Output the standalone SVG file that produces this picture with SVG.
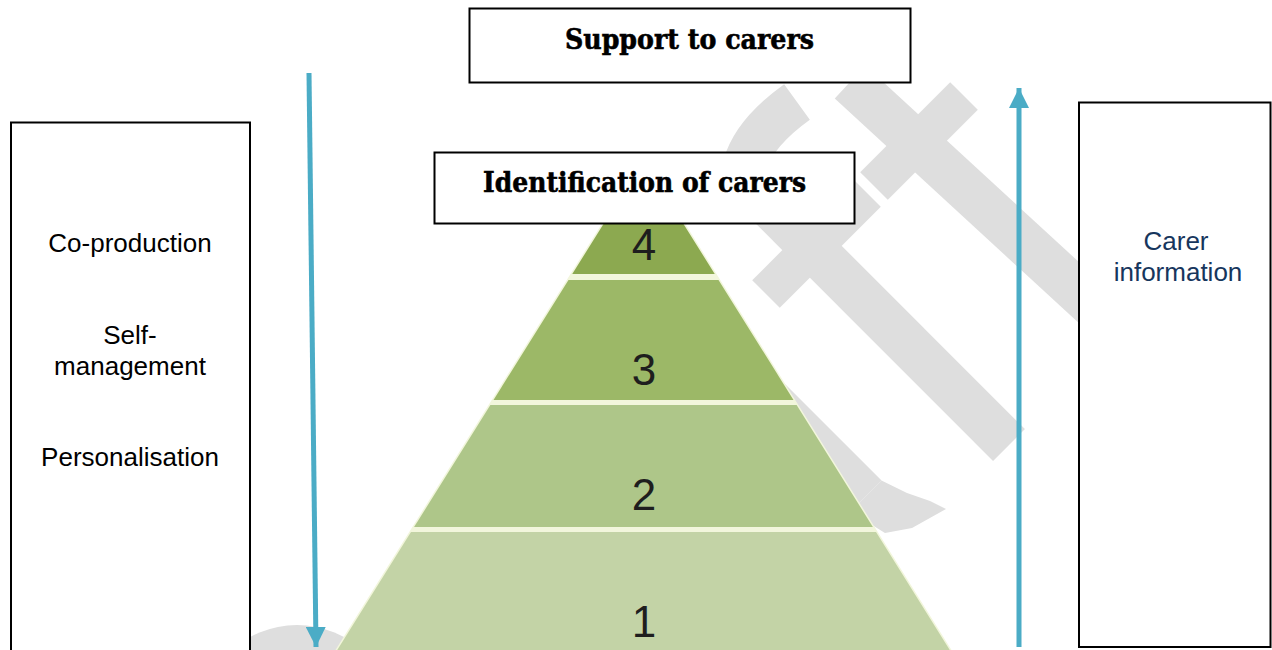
<svg xmlns="http://www.w3.org/2000/svg" width="1272" height="650" viewBox="0 0 1272 650">
<defs>
<style>
.wm{fill:none;stroke:#dedede;stroke-linecap:butt}
.wmf{fill:#dedede}
.box{fill:#ffffff;stroke:#000000;stroke-width:2}
.title{font-family:"DejaVu Serif","Liberation Serif",serif;font-weight:bold;font-size:28px;fill:#000000;stroke:#000000;stroke-width:0.6;text-anchor:middle}
.lbl{font-family:"Liberation Sans",Arial,sans-serif;font-size:26px;fill:#000000;text-anchor:middle}
.info{font-family:"Liberation Sans",Arial,sans-serif;font-size:26px;fill:#17365d;text-anchor:middle}
.num{font-family:"Liberation Sans",Arial,sans-serif;font-size:44px;fill:#1e1e1e;text-anchor:middle}
.arrow{stroke:#4bacc6;stroke-width:5;fill:none}
</style>
<marker id="head" viewBox="0 0 20 20" refX="20" refY="10" markerWidth="20" markerHeight="20" markerUnits="userSpaceOnUse" orient="auto">
<path d="M0,0 L20,10 L0,20 Z" fill="#4bacc6"/>
</marker>
</defs>
<rect x="0" y="0" width="1272" height="650" fill="#ffffff"/>

<g id="watermark">
<circle class="wmf" cx="297" cy="723" r="98"/>
<path class="wm" stroke-width="44" d="M797,102 C772,120 752,140 745,165 C735,200 650,195 645,235 C642,260 640,268 652,282 L866,496"/>
<polygon class="wmf" points="881.5,480.5 907,493 930,501 946,509 912,528 885,533 850.5,511.5"/>
<line class="wm" stroke-width="45" x1="850" y1="82" x2="1100" y2="312"/>
<line class="wm" stroke-width="39" x1="964" y1="96" x2="874" y2="186"/>
<line class="wm" stroke-width="39" x1="867" y1="193" x2="766" y2="294"/>
<line class="wm" stroke-width="45" x1="760" y1="196" x2="1009" y2="445"/>
</g>

<g id="pyramid">
<polygon points="643.5,160 331,660 956,660" fill="#f2f6dc" stroke="#f2f6dc" stroke-width="3"/>
<g id="tier-4">
<polygon points="643.5,160 572.25,274 714.75,274" fill="#8ca950"/>
<text class="num" x="644" y="260">4</text>
</g>
<g id="tier-3">
<polygon points="568.5,280 718.5,280 793.5,400 493.5,400" fill="#9cb867"/>
<text class="num" x="644" y="385">3</text>
</g>
<g id="tier-2">
<polygon points="490.4,405 796.6,405 872.9,527 414.1,527" fill="#aec689"/>
<text class="num" x="644" y="510">2</text>
</g>
<g id="tier-1">
<polygon points="411,532 876,532 956,660 331,660" fill="#c3d3a6"/>
<text class="num" x="644" y="637">1</text>
</g>
</g>

<g id="box-support">
<rect class="box" x="469.5" y="8.5" width="441" height="74"/>
<text class="title" x="689.5" y="49" textLength="249" lengthAdjust="spacingAndGlyphs">Support to carers</text>
</g>

<g id="box-identification">
<rect class="box" x="434.5" y="152.5" width="420" height="71"/>
<text class="title" x="644.5" y="192" textLength="323" lengthAdjust="spacingAndGlyphs">Identification of carers</text>
</g>

<g id="box-left">
<rect class="box" x="11" y="122.5" width="239" height="540"/>
<text class="lbl" x="130" y="252">Co-production</text>
<text class="lbl" x="130" y="344">Self-</text>
<text class="lbl" x="130" y="375">management</text>
<text class="lbl" x="130" y="466">Personalisation</text>
</g>

<g id="box-right">
<rect class="box" x="1079" y="102.5" width="191.5" height="544.5"/>
<text class="info" x="1176" y="250">Carer</text>
<text class="info" x="1178" y="281">information</text>
</g>

<g id="connectors">
<line class="arrow" x1="309" y1="73" x2="316" y2="647" marker-end="url(#head)"/>
<line class="arrow" x1="1019" y1="647" x2="1019" y2="88" marker-end="url(#head)"/>
</g>
</svg>
